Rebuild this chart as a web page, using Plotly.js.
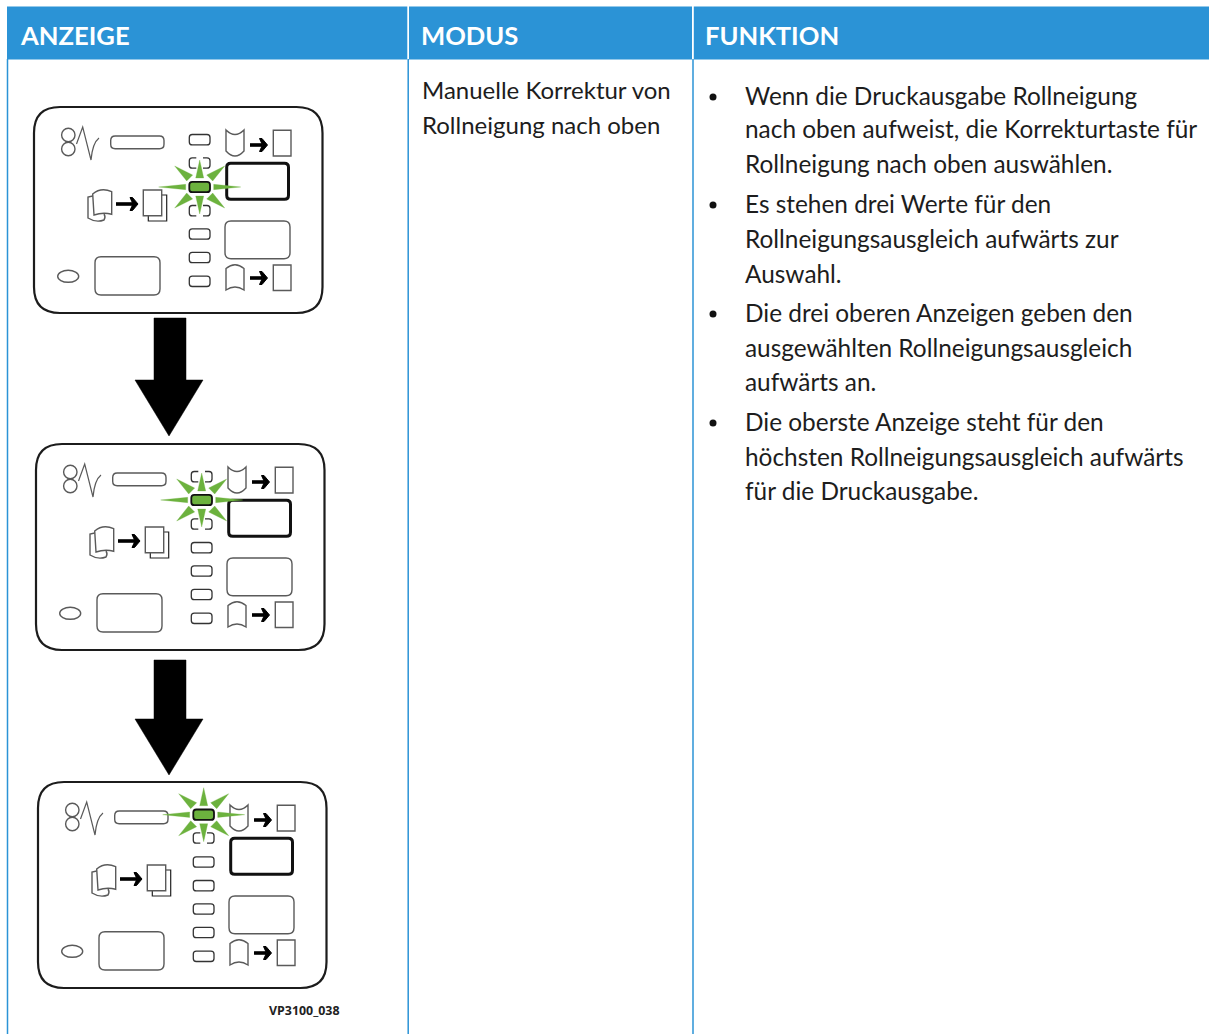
<!DOCTYPE html>
<html><head><meta charset="utf-8">
<script src="https://cdn.plot.ly/plotly-3.0.1.min.js"></script>
<style>html,body{margin:0;padding:0;background:#fff}#c{width:1209px;height:1034px}</style>
</head><body><div id="c"></div>
<script>
const headers = ["ANZEIGE","MODUS","FUNKTION"];
const modusLines = ["Manuelle Korrektur von","Rollneigung nach oben"];
const funktionItems = [
 ["Wenn die Druckausgabe Rollneigung","nach oben aufweist, die Korrekturtaste für","Rollneigung nach oben auswählen."],
 ["Es stehen drei Werte für den","Rollneigungsausgleich aufwärts zur","Auswahl."],
 ["Die drei oberen Anzeigen geben den","ausgewählten Rollneigungsausgleich","aufwärts an."],
 ["Die oberste Anzeige steht für den","höchsten Rollneigungsausgleich aufwärts","für die Druckausgabe."]
];
const funktionY = [[95,128,163],[203,238,273],[312,347,381],[421,456,490]];
const modusY = [89,124];
const figureLabel = "VP3100_038";
const panelOffsets = [[0,0],[2,337],[4,675]];
const activeLed = [2,1,0];
const ledY = [139.7,163,187,210.7,234,257.5,281.3];

const BLUE="#2b93d6", GREEN="#6cb23e", THIN="#5a5a5a", FONT="Lato, 'Open Sans', sans-serif";
const shapes=[], annotations=[];
function path(d,o={}){shapes.push(Object.assign({type:'path',xref:'x',yref:'y',path:d,line:{color:THIN,width:1.4},fillcolor:'rgba(0,0,0,0)',layer:'above'},o.line?{line:o.line}:{},o.fill?{fillcolor:o.fill}:{}));}
function rr(x0,y0,x1,y1,r){return `M${x0+r},${y0} L${x1-r},${y0} Q${x1},${y0} ${x1},${y0+r} L${x1},${y1-r} Q${x1},${y1} ${x1-r},${y1} L${x0+r},${y1} Q${x0},${y1} ${x0},${y1-r} L${x0},${y0+r} Q${x0},${y0} ${x0+r},${y0} Z`;}
function rect(x0,y0,x1,y1,fill){shapes.push({type:'rect',xref:'x',yref:'y',x0,y0,x1,y1,fillcolor:fill,line:{width:0},layer:'below'});}
function vline(x){shapes.push({type:'line',xref:'x',yref:'y',x0:x,x1:x,y0:59,y1:1034,line:{color:BLUE,width:1.5},layer:'below'});}
function ell(cx,cy,rx,ry,o={}){shapes.push({type:'circle',xref:'x',yref:'y',x0:cx-rx,x1:cx+rx,y0:cy-ry,y1:cy+ry,line:o.line||{color:THIN,width:1.4},fillcolor:'rgba(0,0,0,0)',layer:'above'});}
function smallArrow(x0,x1,y,dx,dy){const X=dx,Y=dy;path(`M${x0+X},${y+Y} L${x1-5+X},${y+Y}`,{line:{color:'#000',width:3.6}});
 path(`M${x1-8+X},${y-6.5+Y} L${x1-5.5+X},${y-6.5+Y} L${x1+X},${y+Y} L${x1-5.5+X},${y+6.5+Y} L${x1-8+X},${y+6.5+Y} L${x1-5+X},${y+Y} Z`,{line:{color:'#000',width:1},fill:'#000'});}
function bigArrow(y0,y1,tip){path(`M154,${y0} L186,${y0} L186,${y1} L203,${y1} L169,${tip} L135,${y1} L154,${y1} Z`,{line:{color:'#000',width:0.5},fill:'#000'});}
function star(cx,cy){
 const rays=[[[0,-27],[-4,-9],[4,-9]],[[0,27],[-4,9],[4,9]],[[-41,0],[-14,-2.7],[-14,2.7]],[[41,0],[14,-2.7],[14,2.7]],
  [[-25,-21],[-13,-6],[-7,-12]],[[25,-21],[13,-6],[7,-12]],[[-25,21],[-13,6],[-7,12]],[[25,21],[13,6],[7,12]]];
 rays.forEach(r=>path(`M${cx+r[0][0]},${cy+r[0][1]} L${cx+r[1][0]},${cy+r[1][1]} L${cx+r[2][0]},${cy+r[2][1]} Z`,{line:{color:GREEN,width:0.3},fill:GREEN}));
}
function dashedLed(x0,y0,x1,y1){const r=3;
 path(`M${x0+7},${y0} L${x0+r},${y0} Q${x0},${y0} ${x0},${y0+r} L${x0},${y1-r} Q${x0},${y1} ${x0+r},${y1} L${x0+7},${y1}`,{line:{color:'#333',width:1.3}});
 path(`M${x1-7},${y0} L${x1-r},${y0} Q${x1},${y0} ${x1},${y0+r} L${x1},${y1-r} Q${x1},${y1} ${x1-r},${y1} L${x1-7},${y1}`,{line:{color:'#333',width:1.3}});}

function panel(off,active){const dx=off[0],dy=off[1];const X=v=>v+dx,Y=v=>v+dy;
 path(rr(X(34),Y(107),X(322.5),Y(313),26),{line:{color:'#1c1c1c',width:2.2}});
 ell(X(68.3),Y(135),6.7,6.7); ell(X(68.3),Y(149),6.7,6.7);
 path(`M${X(76.5)},${Y(144)} L${X(82.7)},${Y(127)} L${X(91)},${Y(160)} Q${X(92.5)},${Y(143)} ${X(99)},${Y(138)}`,{line:{color:THIN,width:1.2}});
 path(rr(X(110.7),Y(136),X(164),Y(148.7),4.5));
 // mode buttons
 path(rr(X(226.7),Y(163.3),X(288.5),Y(199.3),4),{line:{color:'#111',width:3}});
 path(rr(X(225),Y(221),X(290),Y(258.7),6));
 path(rr(X(95),Y(256.7),X(160),Y(295),6));
 ell(X(68.2),Y(276.3),10.5,6);
 // top icon
 path(`M${X(226)},${Y(130)} Q${X(235)},${Y(139)} ${X(244)},${Y(130)} L${X(244)},${Y(151)} Q${X(235)},${Y(161)} ${X(226)},${Y(151)} Z`);
 smallArrow(250,267.5,145,dx,dy);
 path(`M${X(273.3)},${Y(130.3)} L${X(291)},${Y(130.3)} L${X(291)},${Y(156)} L${X(273.3)},${Y(156)} Z`);
 // bottom icon
 path(`M${X(226)},${Y(268.5)} Q${X(235)},${Y(261)} ${X(244)},${Y(268.5)} L${X(244)},${Y(290)} Q${X(235)},${Y(284)} ${X(226)},${Y(290)} Z`);
 smallArrow(250,267.5,278,dx,dy);
 path(`M${X(273.3)},${Y(265)} L${X(291)},${Y(265)} L${X(291)},${Y(290.5)} L${X(273.3)},${Y(290.5)} Z`);
 // middle icon
 path(`M${X(92.7)},${Y(194)} Q${X(101)},${Y(187)} ${X(111.7)},${Y(191.7)} L${X(111.7)},${Y(214.3)} Q${X(103)},${Y(212)} ${X(94)},${Y(215)} Z`);
 path(`M${X(92.7)},${Y(196)} L${X(88)},${Y(197)} L${X(88)},${Y(218)} Q${X(96)},${Y(223)} ${X(104)},${Y(220)} Q${X(106)},${Y(217)} ${X(104)},${Y(214)}`);
 smallArrow(116,138,204,dx,dy);
 path(`M${X(148.3)},${Y(215.7)} L${X(148.3)},${Y(221)} L${X(166.7)},${Y(221)} L${X(166.7)},${Y(195)} L${X(161.7)},${Y(195)}`,{line:{color:'#222',width:1.2}});
 path(`M${X(143.3)},${Y(190)} L${X(161.7)},${Y(190)} L${X(161.7)},${Y(215.7)} L${X(143.3)},${Y(215.7)} Z`);
 // LEDs
 const xa=X(189.3),xb=X(210);
 star(X(199.7),Y(ledY[active]));
 ledY.forEach((ly,i)=>{const y0=Y(ly-5.2),y1=Y(ly+5.2);
  if(i===active){path(rr(xa,y0,xb,y1,3),{line:{color:'#111',width:1.8},fill:GREEN});}
  else if(Math.abs(i-active)===1){dashedLed(xa,y0,xb,y1);}
  else path(rr(xa,y0,xb,y1,3),{line:{color:'#333',width:1.3}});
 });
}
// Table frame
rect(7,6.5,407.3,59.5,BLUE); rect(409,6.5,692,59.5,BLUE); rect(693.8,6.5,1209,59.5,BLUE);
vline(7.5); vline(408.2); vline(693);
function txt(text,x,y,size,color,family){annotations.push({text,x,y,xref:'x',yref:'y',xanchor:'left',yanchor:'middle',showarrow:false,align:'left',font:{size,color,family},borderpad:0});}
const hx=[19,420,704];
headers.forEach((h,i)=>txt('<b>'+h+'</b>',hx[i],35,25.6,'#fff',FONT));
modusLines.forEach((l,i)=>txt(l,420.5,modusY[i],24,'#1d1d1d',FONT));
funktionItems.forEach((it,i)=>it.forEach((l,j)=>txt(l,743.5,funktionY[i][j],24.4,'#1d1d1d',FONT)));
txt('<b>'+figureLabel+'</b>',268,1010,12.4,'#222',"'Open Sans', sans-serif");
panelOffsets.forEach((o,i)=>panel(o,activeLed[i]));
bigArrow(318,380,436); bigArrow(660,719,775);

const bulletX = funktionY.map(()=>713), bulletY = funktionY.map(r=>r[0]+2);
Plotly.newPlot('c',[{type:'scatter',mode:'markers',x:bulletX,y:bulletY,marker:{color:'#111',size:7},hoverinfo:'skip',showlegend:false}],{
 width:1209,height:1034,margin:{l:0,r:0,t:0,b:0},paper_bgcolor:'#fff',plot_bgcolor:'#fff',showlegend:false,
 xaxis:{range:[0,1209],visible:false,fixedrange:true},
 yaxis:{range:[1034,0],visible:false,fixedrange:true},
 shapes,annotations
},{displayModeBar:false,staticPlot:true});
</script></body></html>
